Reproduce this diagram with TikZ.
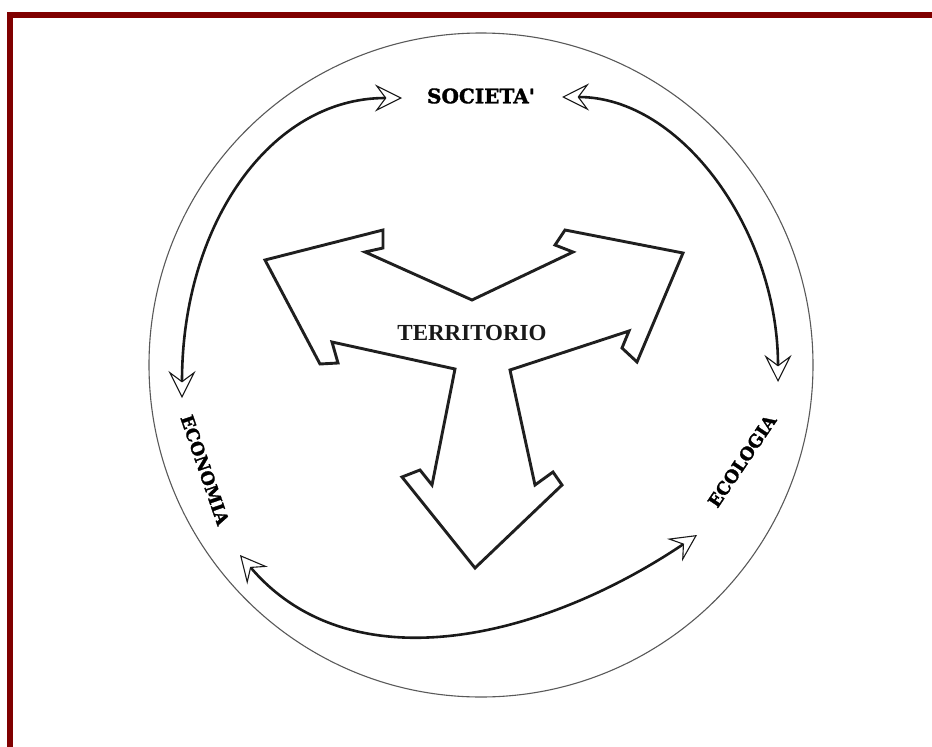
\documentclass[tikz,border=0pt]{standalone}
\usepackage{fontspec}
\usepackage{xcolor}
\usepackage{tikz}
\usetikzlibrary{arrows.meta,positioning}
\newfontfamily\labelfont{DejaVu Serif}[BoldFeatures={FakeBold=1.6}]
\newfontfamily\centrefont{Liberation Serif}
\definecolor{framered}{RGB}{128,0,0}

\begin{document}
\begin{tikzpicture}[
  x=1pt, y=-1pt,
  every node/.style={inner sep=0pt},
  frame/.style={fill=framered},
  ring/.style={draw=black!65, line width=1.1pt},
  spoke/.style={draw=black!88, line width=2.9pt, line join=miter},
  pole/.style={font=\labelfont\bfseries\fontsize{17.5}{17.5}\selectfont},
  centre/.style={font=\centrefont\bfseries\fontsize{23}{23}\selectfont, text=black!90},
  biarc/.style={draw=black!90, line width=2.6pt,
    arrows={Stealth[open, length=27pt, width=27pt, inset=10pt, line width=1.1pt]-Stealth[open, length=27pt, width=27pt, inset=10pt, line width=1.1pt]}},
]
  \useasboundingbox (0,0) rectangle (932,747);

  % frame
  \fill[frame] (7,12) rectangle (932,18);
  \fill[frame] (7,12) rectangle (13,747);

  \draw[ring] (481,365) circle[radius=332pt];

  % three-way arrow
  \draw[spoke] (265,260) -- (383,230) -- (383,248) -- (365,252) -- (472,300)
    -- (573,252) -- (555,245) -- (565,230) -- (683,253) -- (637,362)
    -- (622,348) -- (629,331) -- (510,370) -- (535,485) -- (553,472)
    -- (562,485) -- (475,568) -- (402,477) -- (420,470) -- (432,485)
    -- (455,369) -- (332,342) -- (338,363) -- (320,364) -- cycle;

  \node[centre] (terr) at (472,333) {TERRITORIO};

  \node[pole, font=\labelfont\bfseries\fontsize{20}{20}\selectfont] (soc) at (481,96) {SOCIETA'};
  \node[pole, rotate=-71] (econ) at (205,470) {ECONOMIA};
  \node[pole, rotate=56] (ecol) at (742,461) {ECOLOGIA};

  \coordinate (socW) at (402,98);
  \coordinate (socE) at (562,97);
  \coordinate (econN) at (182,398);
  \coordinate (econS) at (240,555);
  \coordinate (ecolN) at (778,382);
  \coordinate (ecolS) at (697,535);

  \draw[biarc] (econN) .. controls +(0,-173) and +(-132,0) .. (socW);
  \draw[biarc] (socE) .. controls +(120,0) and +(0,-150) .. (ecolN);
  \draw[biarc] (econS) .. controls +(110,129) and +(-158,106) .. (ecolS);
\end{tikzpicture}
\end{document}
